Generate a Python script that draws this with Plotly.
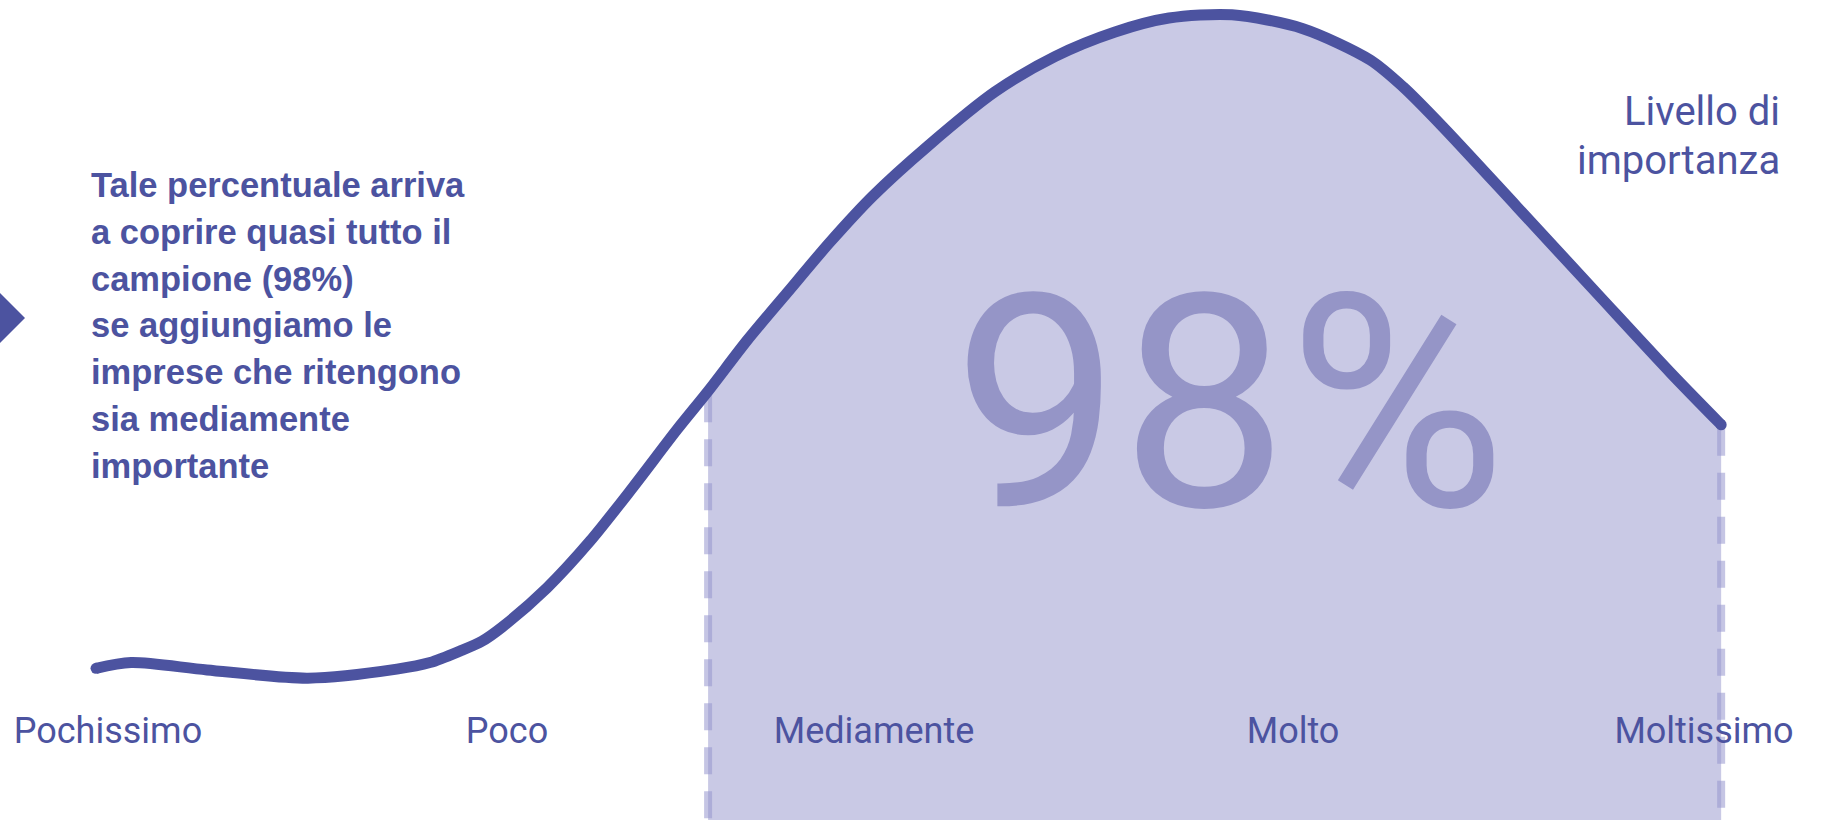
import plotly.graph_objects as go

# ---- data -------------------------------------------------------------
categories = ["Pochissimo", "Poco", "Mediamente", "Molto", "Moltissimo"]
category_pos = [0.0, 1.0, 1.92, 2.97, 4.0]

# distribution curve (x in category units, y in arbitrary share units)
curve_x = [-0.030, 0.058, 0.248, 0.501, 0.724, 0.807, 0.882, 0.937, 0.987, 1.100,
           1.208, 1.316, 1.426, 1.504, 1.602, 1.702, 1.810, 1.917, 2.055, 2.223,
           2.373, 2.524, 2.659, 2.817, 2.995, 3.163, 3.246, 3.346, 3.531, 3.734,
           3.917, 4.043]
curve_y = [18.5, 19.2, 18.3, 17.3, 18.4, 19.2, 20.6, 21.8, 23.5, 28.3,
           34.0, 40.6, 47.6, 52.3, 58.5, 64.3, 70.5, 76.1, 82.2, 88.8,
           93.1, 96.1, 97.8, 98.2, 96.5, 92.7, 89.4, 84.5, 74.8, 64.1,
           54.5, 48.2]

# shaded band: from the middle of Poco/Mediamente to the end of Moltissimo
band_start = 1.504
band_end = 4.043

highlight_value = "98%"
axis_title_lines = ["Livello di", "importanza"]
note_lines = [
    "Tale percentuale arriva",
    "a coprire quasi tutto il",
    "campione (98%)",
    "se aggiungiamo le",
    "imprese che ritengono",
    "sia mediamente",
    "importante",
]

# ---- styles -----------------------------------------------------------
W, H = 1823, 820
LINE_COLOR = "#4C53A0"
FILL_COLOR = "#C9C9E5"
BIG_COLOR = "#9595C7"
DASH_COLOR = "rgba(150,150,205,0.55)"

band_x = [x for x in curve_x if band_start <= x <= band_end]
band_y = [y for x, y in zip(curve_x, curve_y) if band_start <= x <= band_end]

fig = go.Figure()

# shaded area under the curve
fig.add_trace(go.Scatter(
    x=band_x, y=band_y, mode="lines",
    line=dict(width=0, shape="spline", smoothing=0.8, color=FILL_COLOR),
    fill="tozeroy", fillcolor=FILL_COLOR, hoverinfo="skip", showlegend=False,
))

# dashed boundaries of the band
for bx, by in [(band_x[0], band_y[0]), (band_x[-1], band_y[-1])]:
    fig.add_trace(go.Scatter(
        x=[bx, bx], y=[by - 0.5, 0], mode="lines",
        line=dict(color=DASH_COLOR, width=8, dash="27px,17px"),
        hoverinfo="skip", showlegend=False,
    ))

# the curve
fig.add_trace(go.Scatter(
    x=curve_x, y=curve_y, mode="lines",
    line=dict(color=LINE_COLOR, width=11, shape="spline", smoothing=0.8),
    hoverinfo="skip", showlegend=False,
))
# rounded line ends
fig.add_trace(go.Scatter(
    x=[curve_x[0], curve_x[-1]], y=[curve_y[0], curve_y[-1]], mode="markers",
    marker=dict(color=LINE_COLOR, size=11, line=dict(width=0)),
    hoverinfo="skip", showlegend=False,
))

x_lo = -108 / 399
x_hi = (W - 108) / 399

fig.update_layout(
    width=W, height=H,
    margin=dict(l=0, r=0, t=0, b=0),
    paper_bgcolor="white", plot_bgcolor="white",
    showlegend=False,
    xaxis=dict(
        range=[x_lo, x_hi], showgrid=False, zeroline=False, showline=False,
        tickmode="array", tickvals=category_pos, ticktext=categories,
        ticks="", anchor="free", position=1 - 706 / H,
        tickfont=dict(family="Roboto", size=36, color=LINE_COLOR),
        fixedrange=True,
    ),
    yaxis=dict(range=[0, 100], visible=False, fixedrange=True),
)

# big percentage
fig.add_annotation(
    x=1229 / W, y=1 - 404 / H, xref="paper", yref="paper",
    text=highlight_value, showarrow=False, xanchor="center", yanchor="middle",
    font=dict(family="Roboto", size=298, color=BIG_COLOR),
)

# axis title on the right
for i, t in enumerate(axis_title_lines):
    base = 125 + 50 * i
    fig.add_annotation(
        x=1782 / W, y=1 - (base - 14) / H, xref="paper", yref="paper",
        text=t, showarrow=False, xanchor="right", yanchor="middle",
        font=dict(family="Roboto", size=40, color=LINE_COLOR),
    )

# explanatory note on the left
for i, t in enumerate(note_lines):
    base = 196.7 + 46.9 * i
    fig.add_annotation(
        x=89 / W, y=1 - (base - 12) / H, xref="paper", yref="paper",
        text="<b>" + t + "</b>", showarrow=False, xanchor="left", yanchor="middle",
        font=dict(family="Liberation Sans", size=34.5, color=LINE_COLOR),
    )

# pointer diamond at the left edge
dx = 25 / W
cy, dy = 1 - 318 / H, 25 / H
fig.add_shape(
    type="path", xref="paper", yref="paper",
    path=f"M {-dx} {cy} L 0 {cy + dy} L {dx} {cy} L 0 {cy - dy} Z",
    fillcolor=LINE_COLOR, line=dict(width=0),
)

fig.write_html(
    "out.html",
    config={"displayModeBar": False, "staticPlot": True},
    post_script="document.body.style.margin='0';document.body.style.overflow='hidden';",
)
